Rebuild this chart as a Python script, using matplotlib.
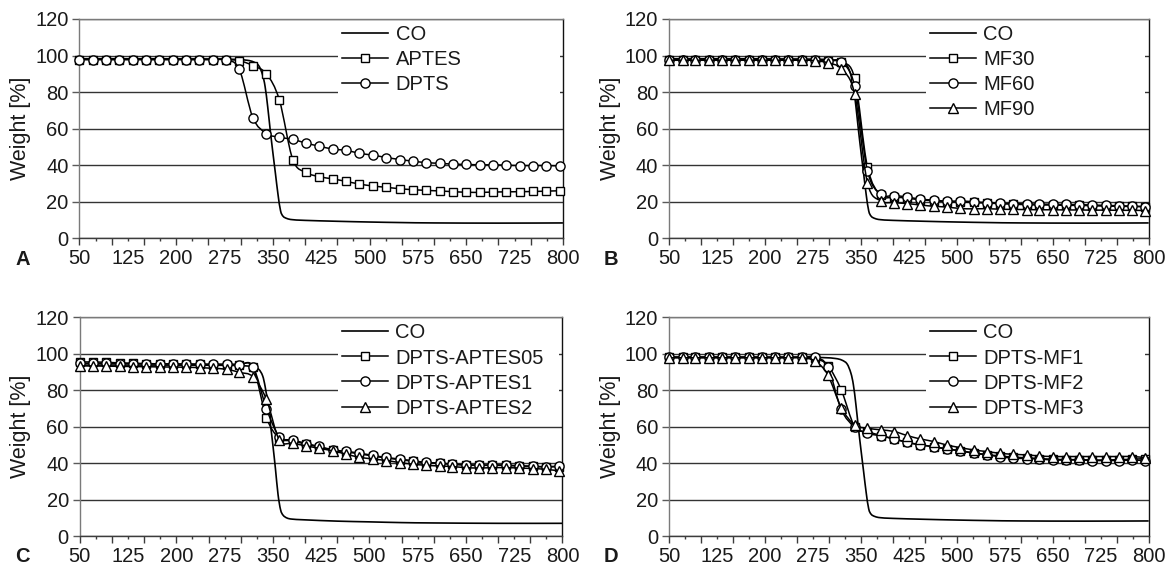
import matplotlib
matplotlib.use("Agg")
import matplotlib.pyplot as plt
from matplotlib.path import Path
from matplotlib.patches import PathPatch
from matplotlib.lines import Line2D
from matplotlib.ticker import FixedLocator, FuncFormatter

plt.rcParams["font.family"] = ["Liberation Sans", "DejaVu Sans"]

# ---- data ----
temps = [50, 71, 91, 112, 133, 153, 174, 195, 215, 236, 257, 278, 298, 319, 340,
         360, 381, 402, 422, 443, 464, 484, 505, 526, 547, 567, 588, 609, 629, 650,
         671, 691, 712, 733, 754, 774, 795]

co_temps = [50, 150, 250, 290, 310, 320, 328, 334, 338, 342, 346, 350, 354, 358,
            362, 366, 372, 380, 400, 450, 500, 550, 600, 700, 800]
co_wt = [98.2, 98.2, 98.1, 97.9, 97.4, 96.5, 94.5, 89.5, 83.0, 72.0, 59.0, 47.0,
         35.5, 24.0, 15.0, 12.0, 10.8, 10.2, 9.8, 9.3, 8.9, 8.6, 8.4, 8.3, 8.4]
co_wt_c = [93.8, 93.8, 93.7, 93.6, 93.3, 92.8, 91.5, 88.0, 82.0, 73.0, 62.0, 50.0,
           37.0, 23.0, 14.5, 11.5, 10.0, 9.4, 9.0, 8.3, 7.9, 7.5, 7.3, 7.1, 7.1]

# panel A
aptes_a = [97.8, 97.8, 97.8, 97.8, 97.8, 97.8, 97.8, 97.8, 97.8, 97.8, 97.8, 97.8,
           97.2, 94.5, 90.0, 75.8, 43.0, 36.0, 33.7, 32.5, 31.1, 29.7, 28.6, 27.9,
           27.1, 26.6, 26.2, 25.9, 25.5, 25.2, 25.1, 25.3, 25.4, 25.5, 25.6, 25.8, 26.0]
dpts_a = [97.8, 97.8, 97.8, 97.8, 97.8, 97.8, 97.8, 97.8, 97.8, 97.8, 97.8, 97.6,
          92.4, 66.0, 57.3, 55.3, 54.1, 52.0, 50.4, 48.8, 48.1, 46.5, 45.5, 44.2,
          43.1, 42.2, 41.4, 41.0, 40.6, 40.4, 40.2, 40.2, 40.0, 39.8, 39.8, 39.8, 39.6]

# panel B
mf30_b = [97.6, 97.6, 97.6, 97.6, 97.6, 97.6, 97.6, 97.6, 97.6, 97.6, 97.6, 97.6,
          97.0, 96.5, 87.5, 39.0, 23.5, 22.6, 22.0, 21.0, 20.6, 20.0, 19.8, 19.6,
          19.2, 19.0, 18.6, 18.4, 18.2, 18.2, 18.0, 18.0, 17.8, 17.6, 17.5, 17.4, 17.3]
mf60_b = [97.6, 97.6, 97.6, 97.6, 97.6, 97.6, 97.6, 97.6, 97.6, 97.6, 97.6, 97.6,
          96.8, 96.6, 83.3, 37.0, 24.0, 23.4, 22.6, 21.4, 20.9, 20.3, 20.4, 20.0,
          19.5, 19.2, 19.0, 18.8, 18.7, 18.6, 18.5, 18.4, 18.2, 18.0, 17.8, 17.6, 17.3]
mf90_b = [97.4, 97.4, 97.4, 97.4, 97.4, 97.4, 97.4, 97.4, 97.4, 97.4, 97.4, 97.2,
          96.0, 92.7, 79.0, 30.4, 20.5, 19.5, 19.0, 18.2, 17.5, 17.1, 16.3, 16.1,
          16.2, 15.9, 15.8, 15.7, 15.6, 15.6, 15.5, 15.5, 15.4, 15.4, 15.3, 15.3, 15.2]

# panel C
aptes05_c = [95.5, 95.5, 95.3, 95.0, 94.8, 94.6, 94.5, 94.4, 94.3, 94.2, 94.1, 94.0,
             93.8, 92.8, 65.0, 53.8, 52.2, 50.4, 48.9, 47.2, 46.2, 45.2, 44.0, 42.9,
             42.0, 41.1, 40.3, 39.9, 39.4, 39.0, 38.8, 38.9, 38.8, 38.5, 38.3, 38.0, 38.2]
aptes1_c = [94.8, 94.8, 94.7, 94.6, 94.6, 94.5, 94.5, 94.4, 94.4, 94.3, 94.3, 94.3,
            94.1, 93.0, 70.0, 54.6, 52.8, 50.8, 49.2, 47.4, 46.5, 45.6, 44.3, 43.2,
            42.3, 41.4, 40.5, 40.1, 39.6, 39.2, 39.0, 39.1, 39.0, 38.6, 38.4, 38.1, 38.5]
aptes2_c = [93.3, 93.3, 93.2, 93.1, 93.0, 92.9, 92.8, 92.7, 92.6, 92.4, 92.0, 91.5,
            89.8, 87.4, 75.0, 52.8, 51.0, 49.5, 48.2, 46.8, 45.0, 43.3, 42.4, 41.5,
            40.4, 39.5, 38.9, 38.5, 38.2, 37.6, 37.4, 37.6, 37.6, 37.4, 37.1, 36.7, 35.8]

# panel D
mf1_d = [98.0, 98.0, 98.0, 98.0, 98.0, 98.0, 98.0, 98.0, 98.0, 98.0, 98.0, 97.5,
         93.5, 80.2, 60.0, 57.4, 55.2, 53.3, 51.5, 50.0, 49.1, 47.9, 46.9, 45.7,
         44.8, 44.0, 43.4, 43.0, 42.6, 42.2, 42.0, 42.0, 41.8, 41.8, 42.0, 42.2, 42.6]
mf2_d = [98.0, 98.0, 98.0, 98.0, 98.0, 98.0, 98.0, 98.0, 98.0, 98.0, 98.0, 98.2,
         92.8, 69.5, 59.8, 56.4, 55.0, 53.3, 51.5, 50.2, 49.0, 47.8, 46.8, 45.5,
         44.6, 43.6, 42.8, 42.6, 42.3, 41.8, 41.8, 41.8, 41.5, 41.5, 41.5, 41.7, 41.5]
mf3_d = [97.8, 97.8, 97.8, 97.8, 97.8, 97.8, 97.8, 97.8, 97.8, 97.8, 97.8, 96.0,
         88.4, 70.5, 61.0, 59.2, 58.3, 57.4, 55.2, 53.3, 51.9, 50.0, 48.6, 47.3,
         46.4, 45.5, 44.9, 44.6, 44.0, 43.7, 43.7, 43.7, 43.7, 43.7, 43.7, 43.7, 43.1]

x_labels = [50, 125, 200, 275, 350, 425, 500, 575, 650, 725, 800]
y_ticks = [0, 20, 40, 60, 80, 100, 120]

panels = [
    ("A", co_wt, [("APTES", "s", aptes_a), ("DPTS", "o", dpts_a)]),
    ("B", co_wt, [("MF30", "s", mf30_b), ("MF60", "o", mf60_b), ("MF90", "^", mf90_b)]),
    ("C", co_wt_c, [("DPTS-APTES05", "s", aptes05_c), ("DPTS-APTES1", "o", aptes1_c),
                    ("DPTS-APTES2", "^", aptes2_c)]),
    ("D", co_wt, [("DPTS-MF1", "s", mf1_d), ("DPTS-MF2", "o", mf2_d), ("DPTS-MF3", "^", mf3_d)]),
]

# axes rectangles in figure fractions
rects = [
    [0.0682, 0.579, 0.415, 0.3875],
    [0.5745, 0.579, 0.4115, 0.3875],
    [0.0685, 0.0525, 0.4143, 0.387],
    [0.5745, 0.0525, 0.4115, 0.387],
]
letter_pos = [(0.013, 0.531), (0.518, 0.531), (0.013, 0.007), (0.518, 0.007)]

marker_size = {"s": 6.0, "o": 6.6, "^": 7.2}
TXT = "#1a1a1a"
FS = 14.5


def smooth_path(xs, ys):
    # excel-like smoothed line: catmull-rom converted to cubic bezier
    n = len(xs)
    verts = [(xs[0], ys[0])]
    codes = [Path.MOVETO]
    for i in range(n - 1):
        x0, y0 = (xs[i - 1], ys[i - 1]) if i > 0 else (xs[i], ys[i])
        x1, y1 = xs[i], ys[i]
        x2, y2 = xs[i + 1], ys[i + 1]
        x3, y3 = (xs[i + 2], ys[i + 2]) if i + 2 < n else (x2, y2)
        verts.append((x1 + (x2 - x0) / 6, y1 + (y2 - y0) / 6))
        verts.append((x2 - (x3 - x1) / 6, y2 - (y3 - y1) / 6))
        verts.append((x2, y2))
        codes += [Path.CURVE4] * 3
    return Path(verts, codes)


def fmt(v, pos):
    return str(int(round(v))) if int(round(v)) in x_labels else ""


fig = plt.figure(figsize=(11.65, 5.66), dpi=100)
fig.patch.set_facecolor("white")

for (letter, co, series), rect, lp in zip(panels, rects, letter_pos):
    ax = fig.add_axes(rect)
    ax.set_xlim(50, 800)
    ax.set_ylim(0, 120)

    # CO curve, no markers
    ax.add_patch(PathPatch(smooth_path(co_temps, co), facecolor="none",
                           edgecolor="black", lw=1.2, zorder=3))
    handles = [Line2D([], [], color="black", lw=1.2, label="CO")]

    for k, (name, mk, vals) in enumerate(series):
        z = 4 + k
        ax.add_patch(PathPatch(smooth_path(temps, vals), facecolor="none",
                               edgecolor="black", lw=1.1, zorder=z))
        ax.plot(temps, vals, linestyle="none", marker=mk, ms=marker_size[mk],
                mfc="white", mec="black", mew=1.0, zorder=z + 0.5, clip_on=False)
        handles.append(Line2D([], [], color="black", lw=1.1, marker=mk,
                              ms=marker_size[mk], mfc="white", mec="black",
                              mew=1.0, label=name))

    # axes styling
    ax.yaxis.grid(True, color="#333333", lw=1.0, zorder=1)
    ax.set_axisbelow(True)
    for side, col in [("left", "#7a7a7a"), ("top", "#7a7a7a"),
                      ("bottom", "#3c3c3c"), ("right", "#111111")]:
        ax.spines[side].set_color(col)
        ax.spines[side].set_linewidth(1.0)

    ax.set_yticks(y_ticks)
    ax.tick_params(axis="y", direction="out", length=4.7, width=1.0,
                   color="#5a5a5a", pad=3.2, labelsize=FS, labelcolor=TXT)

    ax.xaxis.set_major_locator(FixedLocator(list(range(50, 801, 50))))
    ax.xaxis.set_minor_locator(FixedLocator(list(range(75, 800, 50))))
    ax.xaxis.set_major_formatter(FuncFormatter(fmt))
    ax.xaxis.set_minor_formatter(FuncFormatter(fmt))
    ax.tick_params(axis="x", which="major", direction="out", length=4.8,
                   width=1.0, color="#3c3c3c", pad=2.6, labelsize=FS,
                   labelcolor=TXT)
    ax.tick_params(axis="x", which="minor", direction="out", length=2.4,
                   width=1.0, color="#3c3c3c", pad=5.0, labelsize=FS,
                   labelcolor=TXT)

    ax.set_ylabel("Weight [%]", fontsize=15.5, color=TXT, labelpad=3)

    leg = ax.legend(handles=handles, loc="upper left",
                    bbox_to_anchor=(0.535, 0.0, 0.458, 0.99), mode="expand",
                    ncols=1, frameon=True, fancybox=False, framealpha=1,
                    facecolor="white", edgecolor="none", fontsize=FS,
                    borderpad=0.2, borderaxespad=0, handlelength=2.3,
                    handletextpad=0.35, labelspacing=0.3)
    leg.set_zorder(2.6)
    for t in leg.get_texts():
        t.set_color(TXT)

    fig.text(lp[0], lp[1], letter, fontsize=FS, fontweight="bold",
             color=TXT, ha="left", va="baseline")

fig.savefig("out.png", dpi=100, facecolor="white")
